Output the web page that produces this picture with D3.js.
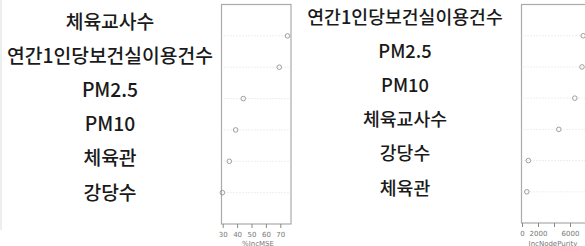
<!DOCTYPE html>
<html><head><meta charset="utf-8">
<script src="https://cdn.jsdelivr.net/npm/d3@7"></script>
<style>body{margin:0;background:#fff}svg{display:block}</style>
</head><body>
<script>
// Left panel (%IncMSE)
const leftVars = ["체육교사수","연간1인당보건실이용건수","PM2.5","PM10","체육관","강당수"];
const leftVals = [75.0, 69.3, 44.3, 39.0, 34.6, 29.8];
const leftTicks = [30,40,50,60,70];
const leftTitle = "%IncMSE";
// Right panel (IncNodePurity)
const rightVars = ["연간1인당보건실이용건수","PM2.5","PM10","체육교사수","강당수","체육관"];
const rightVals = [7650, 7500, 6600, 4600, 800, 600];
const rightTicks = [0,2000,4000,6000];
const rightTickLabels = ["0","2000","","6000"];
const rightTitle = "IncNodePurity";

const W=585,H=246;
const svg=d3.select("body").append("svg").attr("width",W).attr("height",H);
svg.append("rect").attr("width",W).attr("height",H).attr("fill","#fff");
svg.append("line").attr("x1",1).attr("x2",1).attr("y1",0).attr("y2",230).attr("stroke","#ddd");

function panel(opt){
  const g=svg.append("g");
  const y=d3.scalePoint().domain(d3.range(opt.vals.length)).range([opt.top,opt.bottom]).padding(1);
  g.append("rect").attr("x",opt.left).attr("y",opt.top).attr("width",opt.right-opt.left).attr("height",opt.bottom-opt.top)
    .attr("fill","none").attr("stroke","#aaa").attr("stroke-width",1.2);
  g.selectAll(".dl").data(opt.vals).join("line")
    .attr("x1",opt.left).attr("x2",opt.right).attr("y1",(d,i)=>y(i)).attr("y2",(d,i)=>y(i))
    .attr("stroke","#d6d6d6").attr("stroke-dasharray","1,2").attr("stroke-width",0.8);
  g.selectAll(".pt").data(opt.vals).join("circle")
    .attr("cx",d=>opt.x(d)).attr("cy",(d,i)=>y(i)).attr("r",2.3)
    .attr("fill","none").attr("stroke","#888").attr("stroke-width",0.8);
  const ax=g.append("g").attr("transform",`translate(0,${opt.bottom})`)
    .call(d3.axisBottom(opt.x).tickValues(opt.ticks).tickSize(4).tickFormat((d,i)=>opt.tickLabels[i]));
  ax.select(".domain").remove();
  ax.selectAll("line").attr("stroke","#888");
  ax.selectAll("text").attr("fill","#777").attr("font-size",7).attr("font-family","DejaVu Sans").attr("dy","0.9em");
  g.append("text").attr("x",opt.titleX).attr("y",245.5).attr("text-anchor","middle")
    .attr("font-size",7).attr("font-family","DejaVu Sans").attr("fill","#777").text(opt.title);
  const ly=d3.scaleLinear().domain([0,opt.vars.length-1]).range(opt.labelY);
  svg.selectAll(null).data(opt.vars).join("text")
    .attr("x",opt.labelX).attr("y",(d,i)=>ly(i)).attr("dy","0.36em").attr("text-anchor","middle")
    .attr("font-family","'Noto Sans CJK KR'").attr("font-weight",500).attr("font-size",opt.fs)
    .attr("fill","#1a1a1a").text(d=>d);
}

panel({vals:leftVals,vars:leftVars,left:221.5,right:291,top:4.5,bottom:224,
  x:d3.scaleLinear().domain([30,70]).range([222.7,280.3]),ticks:leftTicks,tickLabels:leftTicks.map(String),
  title:leftTitle,titleX:258,labelX:110,labelY:[21.7,192.7],fs:19.3});
panel({vals:rightVals,vars:rightVars,left:521.5,right:590,top:4.5,bottom:223,
  x:d3.scaleLinear().domain([0,6000]).range([522,570]),ticks:rightTicks,tickLabels:rightTickLabels,
  title:rightTitle,titleX:553,labelX:405,labelY:[17,188],fs:18.3});
</script>
</body></html>
